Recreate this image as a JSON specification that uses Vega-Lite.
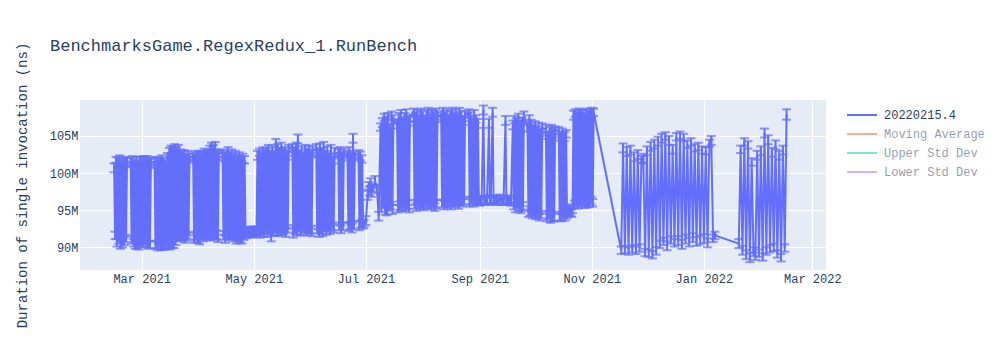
{
"$schema":"https://vega.github.io/schema/vega-lite/v6.json",
"width":746,"height":170,
"autosize":"none",
"padding":{"left":80,"top":100,"right":174,"bottom":80},
"background":"white",
"config":{"view":{"fill":"#E5ECF6","stroke":null},"font":"Liberation Mono"},
"title":{"text":"BenchmarksGame.RegexRedux_1.RunBench","anchor":"start","frame":"group","dx":-30,"offset":-26,"baseline":"alphabetic","fontSize":17,"font":"Liberation Mono","fontWeight":"normal","color":"#2a3f5f"},
"data":{"values":[
{"d":"2021-02-14","v":100.7,"e":0.6},{"d":"2021-02-14T12:00Z","v":91.6,"e":0.5},{"d":"2021-02-15","v":101.8,"e":0.4},{"d":"2021-02-15T12:00Z","v":90.6,"e":0.5},{"d":"2021-02-16","v":101.5,"e":0.6},{"d":"2021-02-16T12:00Z","v":91.0,"e":0.5},{"d":"2021-02-17","v":101.9,"e":0.5},{"d":"2021-02-17T12:00Z","v":90.4,"e":0.6},{"d":"2021-02-18","v":101.2,"e":0.6},{"d":"2021-02-18T12:00Z","v":90.5,"e":0.5},{"d":"2021-02-19","v":101.7,"e":0.5},{"d":"2021-02-19T12:00Z","v":90.8,"e":0.5},{"d":"2021-02-20","v":101.4,"e":0.6},{"d":"2021-02-20T12:00Z","v":91.2,"e":0.5},{"d":"2021-02-21","v":101.6,"e":0.5},{"d":"2021-02-23","v":101.5,"e":0.6},{"d":"2021-02-23T12:00Z","v":91.0,"e":0.5},{"d":"2021-02-24","v":101.8,"e":0.5},{"d":"2021-02-24T12:00Z","v":90.6,"e":0.5},{"d":"2021-02-25","v":101.2,"e":0.6},{"d":"2021-02-25T12:00Z","v":90.3,"e":0.5},{"d":"2021-02-26","v":101.6,"e":0.5},{"d":"2021-02-26T12:00Z","v":90.4,"e":0.6},{"d":"2021-02-27","v":101.0,"e":0.6},{"d":"2021-02-27T12:00Z","v":90.2,"e":0.5},{"d":"2021-02-28","v":101.7,"e":0.5},{"d":"2021-02-28T12:00Z","v":90.6,"e":0.5},
{"d":"2021-03-01","v":101.6,"e":0.6},{"d":"2021-03-01T12:00Z","v":90.5,"e":0.5},{"d":"2021-03-02","v":101.9,"e":0.4},{"d":"2021-03-02T12:00Z","v":91.0,"e":0.6},{"d":"2021-03-03","v":101.5,"e":0.6},{"d":"2021-03-03T12:00Z","v":90.6,"e":0.5},{"d":"2021-03-04","v":101.8,"e":0.5},{"d":"2021-03-04T12:00Z","v":90.3,"e":0.5},{"d":"2021-03-05","v":101.3,"e":0.6},{"d":"2021-03-05T12:00Z","v":90.4,"e":0.5},{"d":"2021-03-06","v":101.6,"e":0.5},{"d":"2021-03-08","v":101.4,"e":0.6},{"d":"2021-03-08T12:00Z","v":90.3,"e":0.5},{"d":"2021-03-09","v":101.7,"e":0.5},{"d":"2021-03-09T12:00Z","v":90.2,"e":0.6},{"d":"2021-03-10","v":101.2,"e":0.6},{"d":"2021-03-10T12:00Z","v":90.5,"e":0.5},{"d":"2021-03-11","v":101.6,"e":0.5},{"d":"2021-03-11T12:00Z","v":90.1,"e":0.5},{"d":"2021-03-12","v":101.9,"e":0.5},{"d":"2021-03-12T12:00Z","v":90.3,"e":0.6},{"d":"2021-03-13","v":101.4,"e":0.6},{"d":"2021-03-13T12:00Z","v":90.2,"e":0.5},{"d":"2021-03-14","v":101.0,"e":0.6},{"d":"2021-03-14T12:00Z","v":90.4,"e":0.5},{"d":"2021-03-15","v":102.2,"e":0.5},{"d":"2021-03-15T12:00Z","v":90.3,"e":0.5},
{"d":"2021-03-16","v":102.8,"e":0.6},{"d":"2021-03-16T12:00Z","v":90.2,"e":0.5},{"d":"2021-03-17","v":103.2,"e":0.5},{"d":"2021-03-17T12:00Z","v":90.5,"e":0.6},{"d":"2021-03-18","v":103.0,"e":0.6},{"d":"2021-03-18T12:00Z","v":90.4,"e":0.5},{"d":"2021-03-19","v":103.4,"e":0.5},{"d":"2021-03-19T12:00Z","v":90.8,"e":0.5},{"d":"2021-03-20","v":102.9,"e":0.6},{"d":"2021-03-20T12:00Z","v":91.4,"e":0.5},{"d":"2021-03-21","v":103.3,"e":0.5},{"d":"2021-03-21T12:00Z","v":91.6,"e":0.6},{"d":"2021-03-22","v":102.6,"e":0.6},{"d":"2021-03-22T12:00Z","v":91.3,"e":0.5},{"d":"2021-03-23","v":102.2,"e":0.7},{"d":"2021-03-23T12:00Z","v":91.5,"e":0.5},{"d":"2021-03-24","v":102.5,"e":0.6},{"d":"2021-03-24T12:00Z","v":91.2,"e":0.6},{"d":"2021-03-25","v":102.0,"e":0.5},{"d":"2021-03-25T12:00Z","v":91.4,"e":0.5},{"d":"2021-03-26","v":102.4,"e":0.6},{"d":"2021-03-26T12:00Z","v":91.6,"e":0.5},{"d":"2021-03-27","v":102.1,"e":0.5},{"d":"2021-03-29","v":102.3,"e":0.5},{"d":"2021-03-29T12:00Z","v":91.1,"e":0.5},{"d":"2021-03-30","v":102.0,"e":0.6},{"d":"2021-03-30T12:00Z","v":91.4,"e":0.5},{"d":"2021-03-31","v":102.5,"e":0.5},{"d":"2021-03-31T12:00Z","v":91.2,"e":0.6},
{"d":"2021-04-01","v":102.3,"e":0.6},{"d":"2021-04-01T12:00Z","v":90.9,"e":0.5},{"d":"2021-04-02","v":102.5,"e":0.5},{"d":"2021-04-02T12:00Z","v":91.6,"e":0.6},{"d":"2021-04-03","v":102.1,"e":0.6},{"d":"2021-04-03T12:00Z","v":91.3,"e":0.5},{"d":"2021-04-04","v":102.8,"e":0.5},{"d":"2021-04-04T12:00Z","v":91.8,"e":0.5},{"d":"2021-04-05","v":102.4,"e":0.6},{"d":"2021-04-05T12:00Z","v":91.5,"e":0.5},{"d":"2021-04-06","v":102.7,"e":0.5},{"d":"2021-04-06T12:00Z","v":91.7,"e":0.6},{"d":"2021-04-07","v":103.1,"e":0.6},{"d":"2021-04-07T12:00Z","v":91.4,"e":0.5},{"d":"2021-04-08","v":103.6,"e":0.5},{"d":"2021-04-08T12:00Z","v":91.8,"e":0.5},{"d":"2021-04-09","v":103.2,"e":0.6},{"d":"2021-04-09T12:00Z","v":91.5,"e":0.5},{"d":"2021-04-10","v":103.7,"e":0.5},{"d":"2021-04-10T12:00Z","v":91.7,"e":0.6},{"d":"2021-04-11","v":102.4,"e":0.6},{"d":"2021-04-11T12:00Z","v":91.2,"e":0.5},{"d":"2021-04-12","v":102.6,"e":0.5},{"d":"2021-04-14","v":102.7,"e":0.5},{"d":"2021-04-14T12:00Z","v":91.6,"e":0.6},{"d":"2021-04-15","v":102.2,"e":0.6},{"d":"2021-04-15T12:00Z","v":91.1,"e":0.5},{"d":"2021-04-16","v":102.5,"e":0.5},{"d":"2021-04-16T12:00Z","v":91.8,"e":0.5},{"d":"2021-04-17","v":102.9,"e":0.6},{"d":"2021-04-17T12:00Z","v":91.5,"e":0.5},{"d":"2021-04-18","v":102.3,"e":0.5},{"d":"2021-04-18T12:00Z","v":91.7,"e":0.6},{"d":"2021-04-19","v":102.6,"e":0.6},{"d":"2021-04-19T12:00Z","v":91.3,"e":0.5},{"d":"2021-04-20","v":102.1,"e":0.5},{"d":"2021-04-20T12:00Z","v":91.6,"e":0.5},{"d":"2021-04-21","v":102.4,"e":0.6},{"d":"2021-04-21T12:00Z","v":91.0,"e":0.5},{"d":"2021-04-22","v":101.9,"e":0.5},{"d":"2021-04-22T12:00Z","v":91.4,"e":0.6},{"d":"2021-04-23","v":102.2,"e":0.6},{"d":"2021-04-23T12:00Z","v":91.2,"e":0.5},{"d":"2021-04-24","v":101.7,"e":0.5},{"d":"2021-04-24T12:00Z","v":91.0,"e":0.5},{"d":"2021-04-25","v":102.0,"e":0.6},{"d":"2021-04-25T12:00Z","v":91.5,"e":0.5},{"d":"2021-04-26","v":101.8,"e":0.5},{"d":"2021-04-26T12:00Z","v":91.8,"e":0.6},
{"d":"2021-04-27","v":92.0,"e":0.5},{"d":"2021-04-27T12:00Z","v":92.2,"e":0.5},{"d":"2021-04-28","v":91.9,"e":0.6},{"d":"2021-04-28T12:00Z","v":92.1,"e":0.5},{"d":"2021-04-29","v":92.3,"e":0.5},{"d":"2021-04-29T12:00Z","v":92.0,"e":0.6},{"d":"2021-04-30","v":92.2,"e":0.5},{"d":"2021-04-30T12:00Z","v":91.8,"e":0.5},{"d":"2021-05-01","v":92.1,"e":0.6},{"d":"2021-05-01T12:00Z","v":92.3,"e":0.5},{"d":"2021-05-02","v":92.0,"e":0.5},{"d":"2021-05-02T12:00Z","v":92.2,"e":0.6},
{"d":"2021-05-03","v":102.4,"e":0.6},{"d":"2021-05-03T12:00Z","v":92.1,"e":0.5},{"d":"2021-05-04","v":102.8,"e":0.5},{"d":"2021-05-04T12:00Z","v":91.8,"e":0.5},{"d":"2021-05-05","v":102.2,"e":0.6},{"d":"2021-05-05T12:00Z","v":92.2,"e":0.5},{"d":"2021-05-06","v":103.0,"e":0.5},{"d":"2021-05-06T12:00Z","v":92.0,"e":0.6},{"d":"2021-05-07","v":102.6,"e":0.6},{"d":"2021-05-07T12:00Z","v":92.4,"e":0.5},{"d":"2021-05-08","v":102.9,"e":0.5},{"d":"2021-05-08T12:00Z","v":91.9,"e":0.5},{"d":"2021-05-09","v":103.2,"e":0.6},{"d":"2021-05-09T12:00Z","v":92.3,"e":0.5},{"d":"2021-05-10","v":102.5,"e":0.5},{"d":"2021-05-10T12:00Z","v":91.4,"e":0.6},{"d":"2021-05-11","v":103.1,"e":0.6},{"d":"2021-05-11T12:00Z","v":92.1,"e":0.5},{"d":"2021-05-12","v":102.3,"e":0.5},{"d":"2021-05-12T12:00Z","v":92.5,"e":0.5},{"d":"2021-05-13","v":104.0,"e":0.6},{"d":"2021-05-13T12:00Z","v":92.0,"e":0.5},{"d":"2021-05-14","v":103.4,"e":0.5},{"d":"2021-05-14T12:00Z","v":92.2,"e":0.6},{"d":"2021-05-15","v":102.8,"e":0.6},{"d":"2021-05-15T12:00Z","v":92.4,"e":0.5},{"d":"2021-05-16","v":103.6,"e":0.5},{"d":"2021-05-16T12:00Z","v":92.1,"e":0.5},{"d":"2021-05-17","v":102.6,"e":0.6},{"d":"2021-05-17T12:00Z","v":92.3,"e":0.5},{"d":"2021-05-18","v":103.0,"e":0.5},{"d":"2021-05-18T12:00Z","v":92.0,"e":0.6},{"d":"2021-05-19","v":102.4,"e":0.6},{"d":"2021-05-19T12:00Z","v":92.5,"e":0.5},{"d":"2021-05-20","v":103.3,"e":0.5},{"d":"2021-05-22","v":103.4,"e":0.5},{"d":"2021-05-22T12:00Z","v":91.9,"e":0.6},{"d":"2021-05-23","v":102.9,"e":0.6},{"d":"2021-05-23T12:00Z","v":92.3,"e":0.5},{"d":"2021-05-24","v":103.6,"e":0.5},{"d":"2021-05-24T12:00Z","v":92.1,"e":0.5},{"d":"2021-05-25","v":104.6,"e":0.6},{"d":"2021-05-25T12:00Z","v":92.6,"e":0.5},{"d":"2021-05-26","v":102.5,"e":0.5},{"d":"2021-05-26T12:00Z","v":92.2,"e":0.6},{"d":"2021-05-27","v":103.0,"e":0.6},{"d":"2021-05-27T12:00Z","v":92.7,"e":0.5},{"d":"2021-05-28","v":102.2,"e":0.5},{"d":"2021-05-28T12:00Z","v":92.4,"e":0.5},{"d":"2021-05-29","v":103.2,"e":0.6},{"d":"2021-05-29T12:00Z","v":92.1,"e":0.5},{"d":"2021-05-30","v":102.8,"e":0.5},{"d":"2021-05-30T12:00Z","v":92.6,"e":0.6},{"d":"2021-05-31","v":103.1,"e":0.6},{"d":"2021-05-31T12:00Z","v":92.3,"e":0.5},
{"d":"2021-06-01","v":102.6,"e":0.5},{"d":"2021-06-01T12:00Z","v":92.0,"e":0.5},{"d":"2021-06-02","v":103.0,"e":0.6},{"d":"2021-06-04","v":103.3,"e":0.6},{"d":"2021-06-04T12:00Z","v":92.4,"e":0.5},{"d":"2021-06-05","v":102.7,"e":0.5},{"d":"2021-06-05T12:00Z","v":91.9,"e":0.5},{"d":"2021-06-06","v":103.4,"e":0.6},{"d":"2021-06-06T12:00Z","v":92.3,"e":0.5},{"d":"2021-06-07","v":102.9,"e":0.5},{"d":"2021-06-07T12:00Z","v":92.1,"e":0.6},{"d":"2021-06-08","v":103.6,"e":0.6},{"d":"2021-06-08T12:00Z","v":92.6,"e":0.5},{"d":"2021-06-09","v":102.5,"e":0.5},{"d":"2021-06-09T12:00Z","v":92.2,"e":0.5},{"d":"2021-06-10","v":103.0,"e":0.6},{"d":"2021-06-10T12:00Z","v":92.7,"e":0.5},{"d":"2021-06-11","v":102.2,"e":0.5},{"d":"2021-06-11T12:00Z","v":92.4,"e":0.6},{"d":"2021-06-12","v":103.2,"e":0.6},{"d":"2021-06-12T12:00Z","v":92.8,"e":0.5},{"d":"2021-06-13","v":101.8,"e":0.5},{"d":"2021-06-13T12:00Z","v":92.5,"e":0.5},{"d":"2021-06-14","v":102.8,"e":0.6},{"d":"2021-06-16","v":102.6,"e":0.6},{"d":"2021-06-16T12:00Z","v":92.8,"e":0.5},{"d":"2021-06-17","v":103.0,"e":0.5},{"d":"2021-06-17T12:00Z","v":92.4,"e":0.5},{"d":"2021-06-18","v":102.3,"e":0.6},{"d":"2021-06-18T12:00Z","v":92.9,"e":0.5},{"d":"2021-06-19","v":102.8,"e":0.5},{"d":"2021-06-21","v":102.5,"e":0.5},{"d":"2021-06-21T12:00Z","v":92.7,"e":0.5},{"d":"2021-06-22","v":102.9,"e":0.6},{"d":"2021-06-22T12:00Z","v":92.9,"e":0.5},{"d":"2021-06-23","v":102.2,"e":0.5},{"d":"2021-06-23T12:00Z","v":92.6,"e":0.6},{"d":"2021-06-24","v":104.7,"e":0.6},{"d":"2021-06-24T12:00Z","v":93.0,"e":0.5},{"d":"2021-06-25","v":102.4,"e":0.5},{"d":"2021-06-27","v":102.6,"e":0.5},{"d":"2021-06-27T12:00Z","v":92.9,"e":0.6},{"d":"2021-06-28","v":102.3,"e":0.6},{"d":"2021-06-28T12:00Z","v":93.2,"e":0.5},{"d":"2021-06-29","v":101.9,"e":0.5},{"d":"2021-06-29T12:00Z","v":93.0,"e":0.5},
{"d":"2021-06-30","v":93.2,"e":0.5},{"d":"2021-07-01","v":93.6,"e":0.6},{"d":"2021-07-02","v":97.0,"e":0.6},{"d":"2021-07-02T12:00Z","v":98.3,"e":0.5},{"d":"2021-07-03","v":97.6,"e":0.6},{"d":"2021-07-03T12:00Z","v":98.8,"e":0.5},{"d":"2021-07-04","v":97.4,"e":0.6},{"d":"2021-07-05","v":98.0,"e":0.5},{"d":"2021-07-06","v":99.0,"e":0.6},{"d":"2021-07-07","v":97.8,"e":0.5},{"d":"2021-07-08","v":94.2,"e":0.6},
{"d":"2021-07-09","v":106.2,"e":0.5},{"d":"2021-07-09T12:00Z","v":95.3,"e":0.5},{"d":"2021-07-10","v":106.8,"e":0.6},{"d":"2021-07-10T12:00Z","v":95.8,"e":0.5},{"d":"2021-07-11","v":107.5,"e":0.5},{"d":"2021-07-11T12:00Z","v":95.0,"e":0.6},{"d":"2021-07-12","v":107.0,"e":0.6},{"d":"2021-07-12T12:00Z","v":94.8,"e":0.5},{"d":"2021-07-13","v":107.6,"e":0.5},{"d":"2021-07-13T12:00Z","v":95.4,"e":0.5},{"d":"2021-07-14","v":106.0,"e":0.6},{"d":"2021-07-14T12:00Z","v":95.6,"e":0.5},{"d":"2021-07-15","v":107.8,"e":0.5},{"d":"2021-07-15T12:00Z","v":95.1,"e":0.6},{"d":"2021-07-16","v":107.2,"e":0.6},{"d":"2021-07-18","v":106.6,"e":0.6},{"d":"2021-07-18T12:00Z","v":95.2,"e":0.5},{"d":"2021-07-19","v":107.6,"e":0.5},{"d":"2021-07-19T12:00Z","v":95.6,"e":0.6},{"d":"2021-07-20","v":107.9,"e":0.6},{"d":"2021-07-20T12:00Z","v":95.3,"e":0.5},{"d":"2021-07-21","v":106.9,"e":0.5},{"d":"2021-07-21T12:00Z","v":95.8,"e":0.5},{"d":"2021-07-22","v":107.5,"e":0.6},{"d":"2021-07-22T12:00Z","v":95.4,"e":0.5},{"d":"2021-07-23","v":108.1,"e":0.5},{"d":"2021-07-23T12:00Z","v":95.7,"e":0.6},{"d":"2021-07-24","v":107.0,"e":0.6},{"d":"2021-07-24T12:00Z","v":95.2,"e":0.5},{"d":"2021-07-25","v":107.4,"e":0.5},{"d":"2021-07-27","v":108.2,"e":0.5},{"d":"2021-07-27T12:00Z","v":95.8,"e":0.6},{"d":"2021-07-28","v":107.6,"e":0.6},{"d":"2021-07-28T12:00Z","v":95.4,"e":0.5},{"d":"2021-07-29","v":108.0,"e":0.5},{"d":"2021-07-29T12:00Z","v":96.0,"e":0.5},{"d":"2021-07-30","v":107.3,"e":0.6},{"d":"2021-07-30T12:00Z","v":95.6,"e":0.5},{"d":"2021-07-31","v":108.2,"e":0.5},{"d":"2021-07-31T12:00Z","v":95.9,"e":0.6},
{"d":"2021-08-01","v":107.7,"e":0.6},{"d":"2021-08-01T12:00Z","v":95.5,"e":0.5},{"d":"2021-08-02","v":107.1,"e":0.5},{"d":"2021-08-02T12:00Z","v":96.1,"e":0.5},{"d":"2021-08-03","v":107.9,"e":0.6},{"d":"2021-08-03T12:00Z","v":95.7,"e":0.5},{"d":"2021-08-04","v":108.3,"e":0.5},{"d":"2021-08-04T12:00Z","v":96.0,"e":0.6},{"d":"2021-08-05","v":107.4,"e":0.6},{"d":"2021-08-05T12:00Z","v":95.6,"e":0.5},{"d":"2021-08-06","v":108.1,"e":0.5},{"d":"2021-08-06T12:00Z","v":95.9,"e":0.5},{"d":"2021-08-07","v":107.6,"e":0.6},{"d":"2021-08-07T12:00Z","v":95.4,"e":0.5},{"d":"2021-08-08","v":108.2,"e":0.5},{"d":"2021-08-08T12:00Z","v":95.8,"e":0.6},{"d":"2021-08-09","v":107.8,"e":0.6},{"d":"2021-08-11","v":107.5,"e":0.6},{"d":"2021-08-11T12:00Z","v":95.9,"e":0.5},{"d":"2021-08-12","v":108.3,"e":0.5},{"d":"2021-08-12T12:00Z","v":95.7,"e":0.6},{"d":"2021-08-13","v":107.7,"e":0.6},{"d":"2021-08-13T12:00Z","v":96.1,"e":0.5},{"d":"2021-08-14","v":108.1,"e":0.5},{"d":"2021-08-14T12:00Z","v":95.8,"e":0.5},{"d":"2021-08-15","v":107.3,"e":0.6},{"d":"2021-08-15T12:00Z","v":96.0,"e":0.5},{"d":"2021-08-16","v":107.9,"e":0.5},{"d":"2021-08-16T12:00Z","v":95.7,"e":0.6},{"d":"2021-08-17","v":108.2,"e":0.6},{"d":"2021-08-17T12:00Z","v":96.2,"e":0.5},{"d":"2021-08-18","v":107.6,"e":0.5},{"d":"2021-08-18T12:00Z","v":95.9,"e":0.5},{"d":"2021-08-19","v":108.0,"e":0.6},{"d":"2021-08-19T12:00Z","v":96.1,"e":0.5},{"d":"2021-08-20","v":107.4,"e":0.5},{"d":"2021-08-20T12:00Z","v":95.8,"e":0.6},{"d":"2021-08-21","v":108.2,"e":0.6},{"d":"2021-08-21T12:00Z","v":96.2,"e":0.5},{"d":"2021-08-22","v":107.8,"e":0.5},{"d":"2021-08-22T12:00Z","v":96.0,"e":0.5},{"d":"2021-08-23","v":107.1,"e":0.6},{"d":"2021-08-23T12:00Z","v":96.3,"e":0.5},{"d":"2021-08-24","v":107.9,"e":0.5},{"d":"2021-08-26","v":108.1,"e":0.5},{"d":"2021-08-26T12:00Z","v":96.0,"e":0.5},{"d":"2021-08-27","v":107.6,"e":0.6},{"d":"2021-08-27T12:00Z","v":96.3,"e":0.5},{"d":"2021-08-28","v":106.9,"e":0.5},{"d":"2021-08-28T12:00Z","v":96.1,"e":0.6},{"d":"2021-08-29","v":107.9,"e":0.6},{"d":"2021-08-29T12:00Z","v":96.4,"e":0.5},{"d":"2021-08-30","v":107.3,"e":0.5},{"d":"2021-08-30T12:00Z","v":96.2,"e":0.5},{"d":"2021-08-31","v":106.7,"e":0.6},{"d":"2021-08-31T12:00Z","v":96.3,"e":0.5},
{"d":"2021-09-01","v":96.1,"e":0.5},{"d":"2021-09-01T12:00Z","v":96.3,"e":0.6},{"d":"2021-09-02","v":96.4,"e":0.5},{"d":"2021-09-03","v":108.5,"e":0.6},{"d":"2021-09-03T12:00Z","v":96.2,"e":0.5},{"d":"2021-09-04","v":96.3,"e":0.5},{"d":"2021-09-05","v":96.5,"e":0.6},{"d":"2021-09-06","v":106.7,"e":0.6},{"d":"2021-09-06T12:00Z","v":96.4,"e":0.5},{"d":"2021-09-07","v":96.2,"e":0.5},{"d":"2021-09-08","v":108.2,"e":0.6},{"d":"2021-09-08T12:00Z","v":96.3,"e":0.5},{"d":"2021-09-09","v":96.5,"e":0.5},{"d":"2021-09-10","v":96.4,"e":0.6},{"d":"2021-09-11","v":96.2,"e":0.5},{"d":"2021-09-12","v":96.6,"e":0.5},{"d":"2021-09-13","v":96.3,"e":0.6},{"d":"2021-09-14","v":96.4,"e":0.5},{"d":"2021-09-15","v":107.1,"e":0.6},{"d":"2021-09-15T12:00Z","v":96.2,"e":0.5},{"d":"2021-09-16","v":96.5,"e":0.5},{"d":"2021-09-17","v":96.3,"e":0.6},{"d":"2021-09-18","v":96.1,"e":0.5},
{"d":"2021-09-19","v":106.5,"e":0.6},{"d":"2021-09-19T12:00Z","v":95.6,"e":0.5},{"d":"2021-09-20","v":107.2,"e":0.5},{"d":"2021-09-20T12:00Z","v":95.3,"e":0.6},{"d":"2021-09-21","v":106.8,"e":0.6},{"d":"2021-09-21T12:00Z","v":95.8,"e":0.5},{"d":"2021-09-22","v":107.5,"e":0.5},{"d":"2021-09-22T12:00Z","v":95.4,"e":0.5},{"d":"2021-09-23","v":106.4,"e":0.6},{"d":"2021-09-23T12:00Z","v":95.1,"e":0.5},{"d":"2021-09-24","v":107.0,"e":0.5},{"d":"2021-09-24T12:00Z","v":95.5,"e":0.6},{"d":"2021-09-25","v":107.7,"e":0.6},{"d":"2021-09-27","v":106.2,"e":0.6},{"d":"2021-09-27T12:00Z","v":94.6,"e":0.5},{"d":"2021-09-28","v":107.3,"e":0.5},{"d":"2021-09-28T12:00Z","v":94.9,"e":0.6},{"d":"2021-09-29","v":106.6,"e":0.6},{"d":"2021-09-29T12:00Z","v":94.4,"e":0.5},{"d":"2021-09-30","v":106.0,"e":0.5},{"d":"2021-09-30T12:00Z","v":94.7,"e":0.5},
{"d":"2021-10-01","v":106.4,"e":0.6},{"d":"2021-10-01T12:00Z","v":94.3,"e":0.5},{"d":"2021-10-02","v":105.8,"e":0.5},{"d":"2021-10-02T12:00Z","v":94.6,"e":0.6},{"d":"2021-10-03","v":106.2,"e":0.6},{"d":"2021-10-03T12:00Z","v":94.1,"e":0.5},{"d":"2021-10-04","v":105.5,"e":0.5},{"d":"2021-10-04T12:00Z","v":94.4,"e":0.5},{"d":"2021-10-05","v":106.1,"e":0.6},{"d":"2021-10-07","v":105.9,"e":0.6},{"d":"2021-10-07T12:00Z","v":94.0,"e":0.5},{"d":"2021-10-08","v":105.1,"e":0.5},{"d":"2021-10-08T12:00Z","v":94.3,"e":0.5},{"d":"2021-10-09","v":105.6,"e":0.6},{"d":"2021-10-09T12:00Z","v":93.8,"e":0.5},{"d":"2021-10-10","v":106.0,"e":0.5},{"d":"2021-10-10T12:00Z","v":94.1,"e":0.6},{"d":"2021-10-11","v":105.4,"e":0.6},{"d":"2021-10-11T12:00Z","v":94.0,"e":0.5},{"d":"2021-10-12","v":105.8,"e":0.5},{"d":"2021-10-14","v":105.7,"e":0.5},{"d":"2021-10-14T12:00Z","v":94.2,"e":0.6},{"d":"2021-10-15","v":105.0,"e":0.6},{"d":"2021-10-15T12:00Z","v":94.0,"e":0.5},{"d":"2021-10-16","v":105.5,"e":0.5},{"d":"2021-10-16T12:00Z","v":94.4,"e":0.5},{"d":"2021-10-17","v":104.9,"e":0.6},{"d":"2021-10-17T12:00Z","v":94.1,"e":0.5},{"d":"2021-10-18","v":105.3,"e":0.5},{"d":"2021-10-18T12:00Z","v":94.5,"e":0.6},
{"d":"2021-10-19","v":94.8,"e":0.5},{"d":"2021-10-19T12:00Z","v":95.1,"e":0.5},{"d":"2021-10-20","v":95.0,"e":0.6},{"d":"2021-10-20T12:00Z","v":94.7,"e":0.5},{"d":"2021-10-21","v":94.6,"e":0.5},{"d":"2021-10-21T12:00Z","v":95.2,"e":0.6},
{"d":"2021-10-22","v":107.8,"e":0.6},{"d":"2021-10-22T12:00Z","v":95.8,"e":0.5},{"d":"2021-10-23","v":108.1,"e":0.5},{"d":"2021-10-23T12:00Z","v":96.0,"e":0.5},{"d":"2021-10-24","v":107.6,"e":0.6},{"d":"2021-10-24T12:00Z","v":95.7,"e":0.5},{"d":"2021-10-25","v":108.2,"e":0.5},{"d":"2021-10-25T12:00Z","v":96.3,"e":0.6},{"d":"2021-10-26","v":107.9,"e":0.6},{"d":"2021-10-26T12:00Z","v":95.9,"e":0.5},{"d":"2021-10-27","v":108.0,"e":0.5},{"d":"2021-10-27T12:00Z","v":96.2,"e":0.5},{"d":"2021-10-28","v":107.5,"e":0.6},{"d":"2021-10-28T12:00Z","v":95.8,"e":0.5},{"d":"2021-10-29","v":108.2,"e":0.5},{"d":"2021-10-29T12:00Z","v":96.1,"e":0.6},{"d":"2021-10-30","v":107.8,"e":0.6},{"d":"2021-10-30T12:00Z","v":95.9,"e":0.5},{"d":"2021-10-31","v":108.1,"e":0.5},{"d":"2021-10-31T12:00Z","v":96.3,"e":0.5},{"d":"2021-11-01","v":108.2,"e":0.6},{"d":"2021-11-01T12:00Z","v":96.0,"e":0.5},{"d":"2021-11-02","v":108.2,"e":0.5},
{"d":"2021-11-17","v":89.6,"e":0.5},{"d":"2021-11-18","v":103.4,"e":0.6},{"d":"2021-11-19","v":89.7,"e":0.5},{"d":"2021-11-20","v":102.9,"e":0.6},{"d":"2021-11-21","v":89.5,"e":0.5},{"d":"2021-11-22","v":103.1,"e":0.6},{"d":"2021-11-23","v":89.8,"e":0.5},{"d":"2021-11-24","v":102.2,"e":0.6},{"d":"2021-11-25","v":89.6,"e":0.5},{"d":"2021-11-26","v":102.5,"e":0.6},{"d":"2021-11-27","v":89.9,"e":0.5},{"d":"2021-11-28","v":101.8,"e":0.5},{"d":"2021-11-29","v":102.0,"e":0.6},{"d":"2021-11-30","v":89.3,"e":0.5},
{"d":"2021-12-01","v":103.0,"e":0.6},{"d":"2021-12-02","v":89.2,"e":0.5},{"d":"2021-12-03","v":103.6,"e":0.6},{"d":"2021-12-04","v":89.0,"e":0.5},{"d":"2021-12-05","v":103.9,"e":0.6},{"d":"2021-12-06","v":89.5,"e":0.5},{"d":"2021-12-07","v":104.3,"e":0.6},{"d":"2021-12-08","v":90.4,"e":0.5},{"d":"2021-12-09","v":104.7,"e":0.6},{"d":"2021-12-10","v":90.8,"e":0.5},{"d":"2021-12-11","v":105.0,"e":0.5},{"d":"2021-12-12","v":90.2,"e":0.6},{"d":"2021-12-13","v":104.4,"e":0.6},{"d":"2021-12-14","v":91.0,"e":0.5},{"d":"2021-12-15","v":103.2,"e":0.6},{"d":"2021-12-16","v":90.6,"e":0.5},{"d":"2021-12-17","v":104.9,"e":0.5},{"d":"2021-12-18","v":90.9,"e":0.6},{"d":"2021-12-19","v":105.1,"e":0.5},{"d":"2021-12-20","v":90.4,"e":0.6},{"d":"2021-12-21","v":104.8,"e":0.5},{"d":"2021-12-22","v":91.1,"e":0.6},{"d":"2021-12-23","v":103.9,"e":0.5},{"d":"2021-12-24","v":90.7,"e":0.6},{"d":"2021-12-25","v":104.2,"e":0.5},{"d":"2021-12-26","v":91.3,"e":0.6},{"d":"2021-12-27","v":103.4,"e":0.5},{"d":"2021-12-28","v":90.8,"e":0.6},{"d":"2021-12-29","v":103.6,"e":0.5},{"d":"2021-12-30","v":91.0,"e":0.6},{"d":"2021-12-31","v":103.1,"e":0.5},
{"d":"2022-01-01","v":91.2,"e":0.6},{"d":"2022-01-02","v":103.0,"e":0.5},{"d":"2022-01-03","v":90.6,"e":0.6},{"d":"2022-01-04","v":104.0,"e":0.5},{"d":"2022-01-05","v":104.4,"e":0.6},{"d":"2022-01-06","v":91.2,"e":0.5},{"d":"2022-01-07","v":91.6,"e":0.5},
{"d":"2022-01-20","v":90.5,"e":0.6},{"d":"2022-01-21","v":103.2,"e":0.5},{"d":"2022-01-22","v":89.6,"e":0.6},{"d":"2022-01-23","v":104.2,"e":0.5},{"d":"2022-01-24","v":89.0,"e":0.6},{"d":"2022-01-25","v":103.8,"e":0.5},{"d":"2022-01-26","v":88.6,"e":0.6},{"d":"2022-01-27","v":101.5,"e":0.5},{"d":"2022-01-28","v":89.4,"e":0.6},{"d":"2022-01-29","v":88.8,"e":0.5},{"d":"2022-01-30","v":102.4,"e":0.6},{"d":"2022-01-31","v":89.2,"e":0.5},
{"d":"2022-02-01","v":103.0,"e":0.6},{"d":"2022-02-02","v":88.7,"e":0.5},{"d":"2022-02-03","v":105.4,"e":0.6},{"d":"2022-02-04","v":89.5,"e":0.5},{"d":"2022-02-05","v":104.5,"e":0.6},{"d":"2022-02-06","v":89.8,"e":0.5},{"d":"2022-02-07","v":102.8,"e":0.6},{"d":"2022-02-08","v":90.0,"e":0.5},{"d":"2022-02-09","v":103.8,"e":0.6},{"d":"2022-02-10","v":89.1,"e":0.5},{"d":"2022-02-11","v":102.4,"e":0.6},{"d":"2022-02-12","v":88.6,"e":0.5},{"d":"2022-02-13","v":103.1,"e":0.6},{"d":"2022-02-14","v":89.9,"e":0.5},{"d":"2022-02-15","v":107.9,"e":0.7}
]},
"encoding":{
 "x":{"field":"d","type":"temporal","scale":{"type":"utc","domain":[{"year":2021,"month":1,"date":26,"hours":10,"utc":true},{"year":2022,"month":3,"date":8,"hours":11,"utc":true}]},
  "axis":{"title":null,"values":[{"year":2021,"month":3,"date":1,"utc":true},{"year":2021,"month":5,"date":1,"utc":true},{"year":2021,"month":7,"date":1,"utc":true},{"year":2021,"month":9,"date":1,"utc":true},{"year":2021,"month":11,"date":1,"utc":true},{"year":2022,"month":1,"date":1,"utc":true},{"year":2022,"month":3,"date":1,"utc":true}],"format":"%b %Y","grid":true,"gridColor":"white","gridWidth":1,"domain":false,"ticks":false,"tickSize":0,"labelPadding":3,"labelFont":"Liberation Mono","labelFontSize":12,"labelColor":"#2a3f5f","labelFlush":false,"labelOverlap":false}},
 "y":{"field":"v","type":"quantitative","scale":{"domain":[86.94,109.85],"nice":false,"zero":false},
  "axis":{"title":"Duration of single invocation (ns)","values":[90,95,100,105],"labelExpr":"datum.value + 'M'","grid":true,"gridColor":"white","gridWidth":1,"domain":false,"ticks":false,"tickSize":0,"labelPadding":2,"labelFont":"Liberation Mono","labelFontSize":12,"labelColor":"#2a3f5f","titleFont":"Liberation Mono","titleFontSize":14,"titleFontWeight":"normal","titleColor":"#2a3f5f","titlePadding":20}}
},
"layer":[
 {"mark":{"type":"errorbar","ticks":{"size":9},"thickness":2,"color":"#636efa"},
  "encoding":{"y":{"field":"v","type":"quantitative"},"yError":{"field":"e"}}},
 {"mark":{"type":"line","strokeWidth":2},
  "encoding":{"color":{"datum":"20220215.4","scale":{"domain":["20220215.4","Moving Average","Upper Std Dev","Lower Std Dev"],"range":["#636efa","#EF553B","#00cc96","#ab63fa"]},
   "legend":{"title":null,"orient":"none","legendX":776,"legendY":9,"symbolType":"M-3,0H3","symbolSize":100,"symbolStrokeWidth":2,"labelOffset":16,"rowPadding":7,"labelFont":"Liberation Mono","labelFontSize":12,"labelColor":"#2a3f5f",
    "encode":{"symbols":{"update":{"opacity":{"signal":"datum.value === '20220215.4' ? 1 : 0.5"}}},"labels":{"update":{"opacity":{"signal":"datum.value === '20220215.4' ? 1 : 0.5"}}}}}}}}
]
}
